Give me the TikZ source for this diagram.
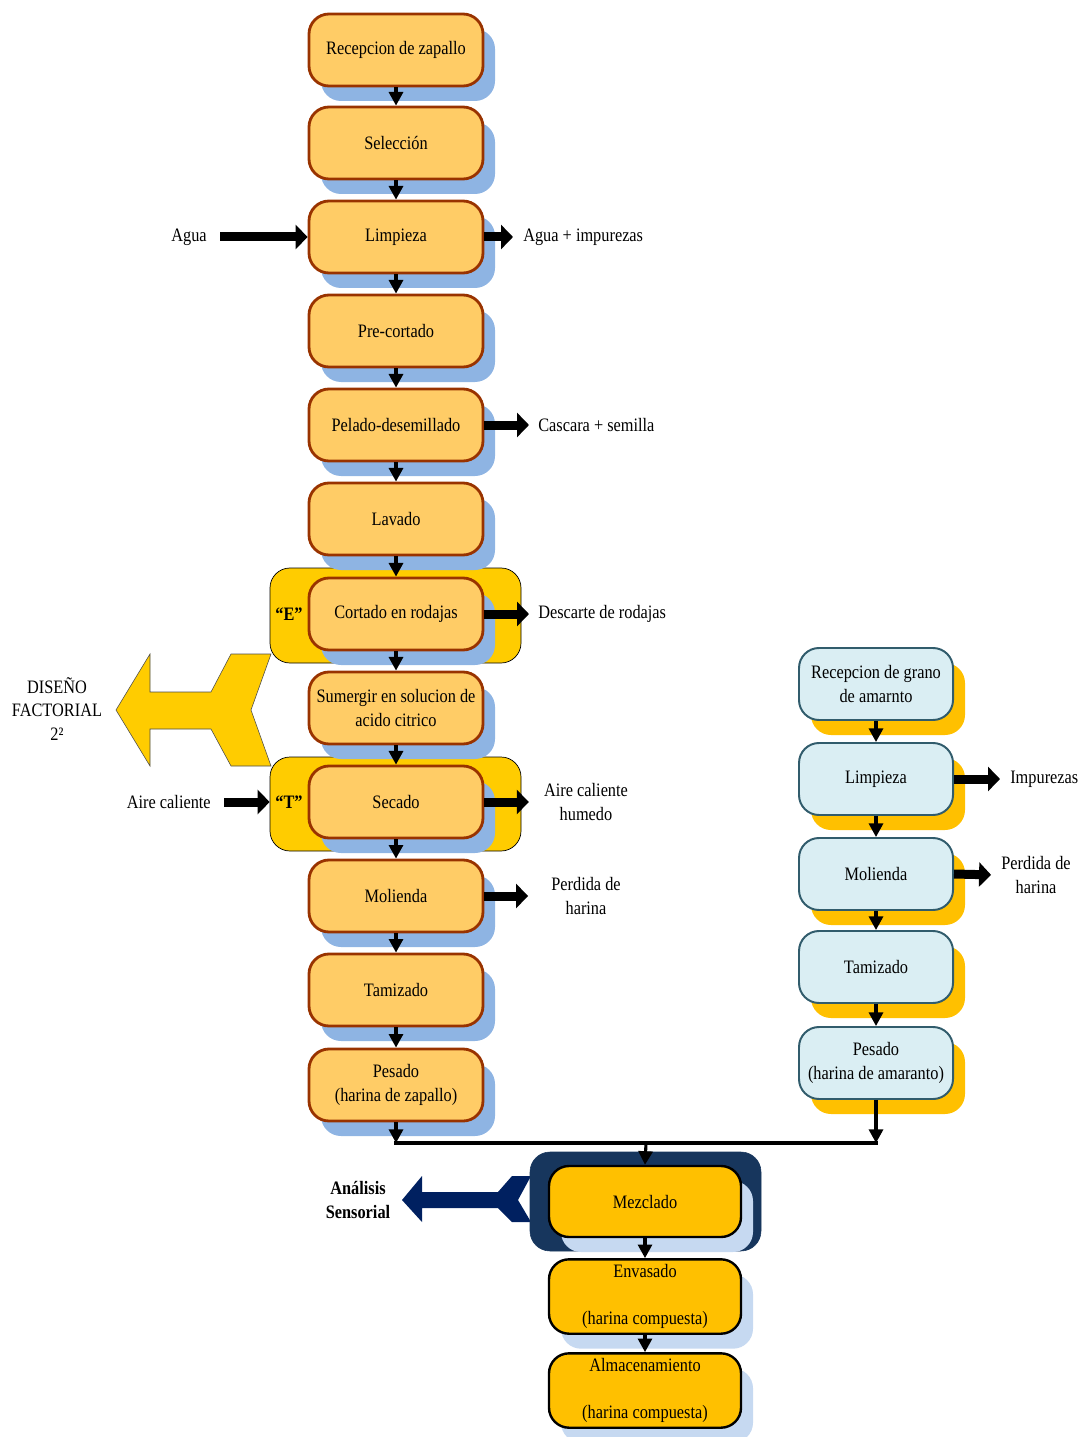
\documentclass[tikz,border=0pt]{standalone}
\usepackage{fontspec}
\setmainfont[FakeStretch=0.86]{Liberation Serif}
\usetikzlibrary{arrows.meta,shadows}
\definecolor{squash}{RGB}{255, 204, 102}
\definecolor{brickred}{RGB}{153, 51, 0}
\definecolor{skyshadow}{RGB}{142, 180, 227}
\definecolor{factorial}{RGB}{255, 204, 0}
\definecolor{amberfill}{RGB}{255, 192, 0}
\definecolor{icefill}{RGB}{218, 238, 243}
\definecolor{tealedge}{RGB}{49, 92, 108}
\definecolor{paleshadow}{RGB}{198, 217, 241}
\definecolor{navygroup}{RGB}{23, 54, 93}
\definecolor{navyarrow}{RGB}{0, 32, 96}

\tikzset{
  zbox/.style={rounded corners=5mm, draw=brickred, line width=2pt, fill=squash,
    minimum width=43.5mm, minimum height=18mm, inner xsep=1mm, align=center,
    general shadow={shadow xshift=3mm, shadow yshift=-3.75mm, fill=skyshadow, draw=none}},
  abox/.style={rounded corners=5mm, draw=tealedge, line width=1.4pt, fill=icefill,
    minimum width=38.5mm, minimum height=18mm, inner xsep=1mm, align=center,
    general shadow={shadow xshift=3mm, shadow yshift=-3.75mm, fill=amberfill, draw=none}},
  mbox/.style={rounded corners=5mm, draw=black, line width=1.7pt, fill=amberfill,
    minimum width=48mm, minimum height=17.75mm, inner xsep=1mm, align=center,
    general shadow={shadow xshift=3mm, shadow yshift=-3.75mm, fill=paleshadow, draw=none}},
  yelgroup/.style={rounded corners=5mm, draw=black, line width=0.5pt, fill=factorial},
  navybox/.style={rounded corners=5mm, draw=navygroup, fill=navygroup},
  sidelabel/.style={inner sep=1mm, align=center},
  flow/.style={line width=2.2pt, -{Triangle[width=3.5mm,length=3.4mm]}},
  bigflow/.style={line width=2.25mm, -{Triangle[width=6mm,length=3mm]}},
}

\begin{document}
\begin{tikzpicture}[x=0.25mm, y=-0.25mm, font=\fontsize{13.5}{17}\selectfont]
\useasboundingbox (0,0) rectangle (1080,1437);

% flechas grandes (diseno factorial y analisis sensorial)
\filldraw[draw=gray!60!black, fill=factorial, line width=0.4pt]
  (116,710) -- (150,654) -- (150,692) -- (211,692) -- (231,654) -- (271,654) -- (251,710)
  -- (271,766) -- (231,766) -- (211,729) -- (150,729) -- (150,766) -- cycle;
\fill[navyarrow]
  (402,1200) -- (422,1176) -- (422,1192) -- (498,1192) -- (512,1176) -- (531,1176) -- (518,1200)
  -- (531,1222) -- (512,1222) -- (498,1208) -- (422,1208) -- (422,1222) -- cycle;

% grupos
\node[yelgroup, minimum width=62.75mm, minimum height=23.75mm] (grpE) at (395.5,615.5) {};
\node[yelgroup, minimum width=62.75mm, minimum height=23.5mm]  (grpT) at (395.5,804) {};
\node[navybox,  minimum width=57.75mm, minimum height=24.75mm] (grpM) at (645.5,1201.5) {};

% zapallo
\node[zbox] (recep)   at (396,  50) {Recepcion de zapallo};
\node[zbox] (selec)   at (396, 143) {Selección};
\node[zbox] (limpZ)   at (396, 237) {Limpieza};
\node[zbox] (precort) at (396, 331) {Pre-cortado};
\node[zbox] (pelado)  at (396, 425) {Pelado-desemillado};
\node[zbox] (lavado)  at (396, 519) {Lavado};
\node[zbox] (cortado) at (396, 614) {Cortado en rodajas};
\node[zbox] (sumerg)  at (396, 708) {Sumergir en solucion de\\acido citrico};
\node[zbox] (secado)  at (396, 802) {Secado};
\node[zbox] (moliZ)   at (396, 896) {Molienda};
\node[zbox] (tamZ)    at (396, 990) {Tamizado};
\node[zbox] (pesZ)    at (396,1085) {Pesado\\(harina de zapallo)};

% amaranto
\node[abox] (recepA) at (876, 684) {Recepcion de grano\\de amarnto};
\node[abox] (limpA)  at (876, 779) {Limpieza};
\node[abox] (moliA)  at (876, 874) {Molienda};
\node[abox] (tamA)   at (876, 967) {Tamizado};
\node[abox] (pesA)   at (876,1063) {Pesado\\(harina de amaranto)};

% harina compuesta
\node[mbox] (mezcla) at (645,1201.5) {Mezclado};
\node[mbox] (envas)  at (645,1296.5) {Envasado\\[17pt](harina compuesta)};
\node[mbox] (almac)  at (645,1390.5) {Almacenamiento\\[17pt](harina compuesta)};

% etiquetas
\node[sidelabel, anchor=east] (aguaIn)  at (211, 237) {Agua};
\node[sidelabel, anchor=west] (aguaOut) at (519, 237) {Agua + impurezas};
\node[sidelabel, anchor=west] (cascara) at (534, 425) {Cascara + semilla};
\node[sidelabel, anchor=west] (descarte) at (534, 614) {Descarte de rodajas};
\node[sidelabel] (aireOut) at (586, 802) {Aire caliente\\humedo};
\node[sidelabel, anchor=east] (aireIn) at (215, 802) {Aire caliente};
\node[sidelabel] (perdZ) at (586, 896) {Perdida de\\harina};
\node[sidelabel, anchor=west] (impur) at (1006, 779) {Impurezas};
\node[sidelabel] (perdA) at (1036, 875) {Perdida de\\harina};
\node[sidelabel, font=\fontsize{13.5}{17}\selectfont\bfseries] (labE) at (289, 614) {“E”};
\node[sidelabel, font=\fontsize{13.5}{17}\selectfont\bfseries] (labT) at (289, 802) {“T”};
\node[sidelabel] (diseno) at (57, 709) {DISEÑO\\FACTORIAL\\2²};
\node[sidelabel, font=\fontsize{13.5}{17}\selectfont\bfseries] (sensor) at (358,1200) {Análisis\\Sensorial};

% flujo principal
\foreach \a/\b in {recep/selec, selec/limpZ, limpZ/precort, precort/pelado, pelado/lavado,
                   lavado/cortado, cortado/sumerg, sumerg/secado, secado/moliZ, moliZ/tamZ, tamZ/pesZ,
                   recepA/limpA, limpA/moliA, moliA/tamA, tamA/pesA, mezcla/envas, envas/almac}
  \draw[flow] (\a) -- (\b);

% union de harinas
\coordinate (mergeL) at (396,1143);
\coordinate (mergeR) at (876,1143);
\coordinate (mergeC) at (646,1143);
\draw[flow] (pesZ.south) -- (mergeL);
\draw[flow] (pesA.south) -- (mergeR);
\draw[line width=2.6pt, line cap=rect] (mergeL) -- (mergeR);
\draw[flow] (mergeC) -- (mezcla.north);

% entradas y salidas
\draw[bigflow, shorten <=2.25mm] (aguaIn.east) -- (limpZ.west);
\draw[bigflow, shorten >=1.5mm]  (limpZ.east) -- (aguaOut.west);
\draw[bigflow, shorten >=1.25mm] (pelado.east) -- (cascara.west);
\draw[bigflow, shorten >=1.25mm] (cortado.east) -- (descarte.west);
\draw[bigflow, shorten <=2.25mm] (aireIn.east) -- (aireIn.east -| grpT.west);
\draw[bigflow, shorten >=2.75mm] (secado.east) -- (aireOut.west);
\draw[bigflow, shorten >=4.75mm] (moliZ.east) -- (perdZ.west);
\draw[bigflow, shorten >=1.5mm]  (limpA.east) -- (impur.west);
\draw[bigflow, shorten >=1.5mm]  (moliA.east) -- (perdA.west);
\end{tikzpicture}
\end{document}
